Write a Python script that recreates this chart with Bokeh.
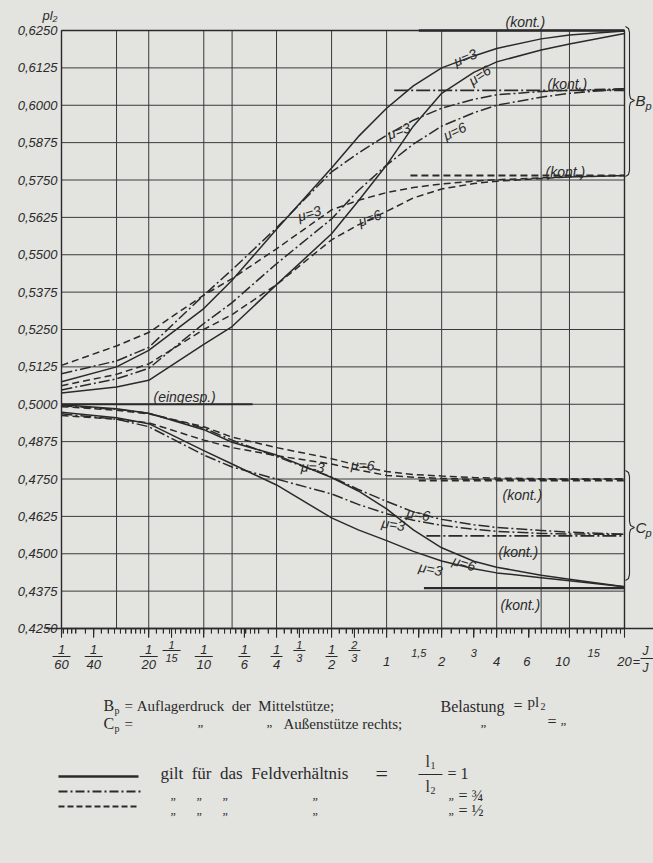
import math
from bokeh.plotting import figure
from bokeh.models import Range1d, FixedTicker, Label, CustomJSTickFormatter
from bokeh.embed import file_html
from bokeh.resources import INLINE

# ---------------- data ----------------
x_pts = [1/60, 1/30, 1/20, 1/10, 1/7, 1/4, 1/2, 0.7, 1, 1.4, 2, 3, 4, 7, 10, 20]

# B_p  (Auflagerdruck der Mittelstuetze)
bp_solid_mu3   = [0.5075, 0.5125, 0.5180, 0.5320, 0.5415, 0.5585, 0.5790, 0.5895, 0.5990, 0.6065, 0.6125, 0.6165, 0.6190, 0.6222, 0.6235, 0.6248]
bp_solid_mu6   = [0.5038, 0.5058, 0.5080, 0.5200, 0.5260, 0.5400, 0.5570, 0.5680, 0.5800, 0.5930, 0.6040, 0.6110, 0.6145, 0.6185, 0.6205, 0.6240]
bp_dashdot_mu3 = [0.5102, 0.5145, 0.5190, 0.5365, 0.5450, 0.5590, 0.5777, 0.5840, 0.5900, 0.5950, 0.5990, 0.6020, 0.6035, 0.6046, 0.6050, 0.6055]
bp_dashdot_mu6 = [0.5048, 0.5085, 0.5120, 0.5270, 0.5340, 0.5470, 0.5620, 0.5715, 0.5800, 0.5870, 0.5930, 0.5975, 0.6000, 0.6027, 0.6040, 0.6055]
bp_dashed_mu3  = [0.5130, 0.5195, 0.5240, 0.5365, 0.5420, 0.5520, 0.5650, 0.5682, 0.5708, 0.5725, 0.5737, 0.5746, 0.5751, 0.5757, 0.5760, 0.5765]
bp_dashed_mu6  = [0.5062, 0.5100, 0.5135, 0.5250, 0.5300, 0.5400, 0.5550, 0.5600, 0.5645, 0.5690, 0.5720, 0.5738, 0.5746, 0.5755, 0.5760, 0.5765]

# C_p  (Auflagerdruck der Aussenstuetze rechts)
cp_solid_mu6   = [0.4998, 0.4985, 0.4970, 0.4915, 0.4873, 0.4830, 0.4755, 0.4710, 0.4650, 0.4580, 0.4520, 0.4475, 0.4455, 0.4428, 0.4415, 0.4390]
cp_solid_mu3   = [0.4973, 0.4955, 0.4935, 0.4845, 0.4800, 0.4730, 0.4620, 0.4580, 0.4544, 0.4508, 0.4476, 0.4450, 0.4436, 0.4420, 0.4410, 0.4390]
cp_dashdot_mu6 = [0.4995, 0.4983, 0.4970, 0.4920, 0.4880, 0.4825, 0.4757, 0.4715, 0.4675, 0.4640, 0.4615, 0.4597, 0.4588, 0.4578, 0.4572, 0.4565]
cp_dashdot_mu3 = [0.4968, 0.4950, 0.4925, 0.4830, 0.4790, 0.4750, 0.4700, 0.4665, 0.4634, 0.4612, 0.4595, 0.4582, 0.4575, 0.4568, 0.4566, 0.4565]
cp_dashed_mu6  = [0.4992, 0.4980, 0.4968, 0.4925, 0.4890, 0.4855, 0.4818, 0.4795, 0.4775, 0.4765, 0.4760, 0.4755, 0.4753, 0.4751, 0.4750, 0.4750]
cp_dashed_mu3  = [0.4962, 0.4950, 0.4938, 0.4880, 0.4855, 0.4828, 0.4800, 0.4780, 0.4762, 0.4756, 0.4752, 0.4749, 0.4748, 0.4748, 0.4749, 0.4750]

# "kont." limits (start J1/J3, value) for solid, dash-dot, dashed
bp_kont_start = [1.5, 1.1, 1.35]
bp_kont_value = [0.6250, 0.6050, 0.5765]
cp_kont_start = [1.6, 1.65, 1.5]
cp_kont_value = [0.4385, 0.4560, 0.4745]

eingesp_x = [1/60, 0.185]
eingesp_y = [0.5000, 0.5000]

# axes
grid_x = [1/60, 1/30, 1/20, 1/10, 1/7, 1/4, 1/2, 1, 2, 4, 7, 10, 20]
y_ticks = [round(0.425 + 0.0125 * i, 4) for i in range(17)]
x_major_ticks = [1/60, 1/40, 1/20, 1/15, 1/10, 1/6, 1/4, 1/3, 1/2, 2/3, 1, 1.5, 2, 3, 4, 6, 10, 15, 20]
x_tick_labels = ["1/60", "1/40", "1/20", "1/15", "1/10", "1/6", "1/4", "1/3", "1/2", "2/3",
                 "1", "1,5", "2", "3", "4", "6", "10", "15", "20"]
x_tick_small = [0, 0, 0, 1, 0, 0, 0, 1, 0, 1, 0, 1, 0, 1, 0, 0, 0, 1, 0]

# ---------------- layout (page pixels) ----------------
W, H = 653, 863
BL = 45                 # left border for the y axis labels
PX_L, PX_R = 61, 624    # chart box left/right (J1/J3 = 1/60 .. 20)
PY_T, PY_B = 30, 628    # chart box top/bottom (0.6250 .. 0.4250)
X0, X1 = 1/60, 20
Y0, Y1 = 0.425, 0.625
PXD = (PX_R - PX_L) / (math.log10(X1) - math.log10(X0))
PYD = (PY_B - PY_T) / (Y1 - Y0)
BG = "#e3e3e0"
INK = "#2a2a2a"
GRID = "#3a3a3a"
NB = "\u00a0"


def dx(px):
    return 10 ** (math.log10(X0) + (px - PX_L) / PXD)


def dy(py):
    return Y1 - (py - PY_T) / PYD


p = figure(width=W, height=H, x_axis_type="log",
           x_range=Range1d(dx(BL), dx(W)), y_range=Range1d(dy(H), dy(0)),
           output_backend="svg", toolbar_location=None,
           min_border_left=BL, min_border_right=0,
           min_border_top=0, min_border_bottom=0)
p.background_fill_color = BG
p.border_fill_color = BG
p.outline_line_color = None
p.xgrid.visible = False
p.ygrid.visible = False

# y axis (with the "pl2" heading as its top label)
title_val = round(dy(15), 6)
yax = p.yaxis[0]
yax.ticker = FixedTicker(ticks=y_ticks + [title_val])
yax.formatter = CustomJSTickFormatter(
    code="return tick > 0.63 ? 'pl\u2082' : tick.toFixed(4).replace('.', ',');")
yax.axis_line_color = None
yax.major_tick_line_color = None
yax.minor_tick_line_color = None
yax.major_tick_out = 0
yax.major_tick_in = 0
yax.major_label_standoff = -(PX_L - BL) + 4
yax.major_label_text_font = "Liberation Sans"
yax.major_label_text_font_style = "italic"
yax.major_label_text_font_size = "13px"
yax.major_label_text_color = INK

# x axis (ruler) fixed on the chart's bottom line
x_minor = sorted(set(round(d * k / 100, 6) for d in (0.01, 0.1, 1, 10)
                     for k in list(range(100, 200, 10)) + list(range(200, 500, 25)) + list(range(500, 1000, 50))
                     if X0 <= d * k / 100 <= X1))
xax = p.xaxis[0]
xax.fixed_location = Y0
xax.ticker = FixedTicker(ticks=x_major_ticks, minor_ticks=x_minor)
xax.formatter = CustomJSTickFormatter(code="return '';")
xax.axis_line_color = INK
xax.axis_line_width = 1.5
xax.major_tick_line_color = INK
xax.minor_tick_line_color = INK
xax.major_tick_out = 9
xax.major_tick_in = 0
xax.minor_tick_out = 5
xax.minor_tick_in = 0
xax.major_label_text_font_size = "1px"

# ruler ticks also drawn as glyphs (same tick arrays)
p.segment(x0=x_major_ticks, y0=[Y0] * len(x_major_ticks), x1=x_major_ticks,
          y1=[dy(PY_B + 9)] * len(x_major_ticks), line_color=INK, line_width=1.1)
p.segment(x0=x_minor, y0=[Y0] * len(x_minor), x1=x_minor,
          y1=[dy(PY_B + 5)] * len(x_minor), line_color=INK, line_width=0.9)

# grid and chart box
p.segment(x0=grid_x, y0=[Y0] * len(grid_x), x1=grid_x, y1=[Y1] * len(grid_x),
          line_color=GRID, line_width=1)
p.segment(x0=[X0] * len(y_ticks), y0=y_ticks, x1=[X1] * len(y_ticks), y1=y_ticks,
          line_color=GRID, line_width=1)
p.segment(x0=[X0, X1, X0, X0], y0=[Y0, Y0, Y1, Y0], x1=[X0, X1, X1, X1], y1=[Y1, Y1, Y1, Y0],
          line_color=INK, line_width=1.4)

DASH = {"solid": "solid", "dashdot": "11 3 2 3", "dashed": "7 4"}
curves = [
    (bp_solid_mu3, "solid"), (bp_solid_mu6, "solid"),
    (bp_dashdot_mu3, "dashdot"), (bp_dashdot_mu6, "dashdot"),
    (bp_dashed_mu3, "dashed"), (bp_dashed_mu6, "dashed"),
    (cp_solid_mu3, "solid"), (cp_solid_mu6, "solid"),
    (cp_dashdot_mu3, "dashdot"), (cp_dashdot_mu6, "dashdot"),
    (cp_dashed_mu3, "dashed"), (cp_dashed_mu6, "dashed"),
]
for ys, st in curves:
    p.line(x_pts, ys, line_color=INK, line_width=1.5, line_dash=DASH[st])

for starts, vals in [(bp_kont_start, bp_kont_value), (cp_kont_start, cp_kont_value)]:
    for s, v, st in zip(starts, vals, ["solid", "dashdot", "dashed"]):
        p.line([s, X1], [v, v], line_color=INK, line_width=2.3 if st == "solid" else 1.8,
               line_dash="14 3 2 3" if st == "dashdot" else DASH[st])

p.line(eingesp_x, eingesp_y, line_color=INK, line_width=1.8)


def lab(text, x, y, size=12, angle=0.0, align="left", baseline="middle",
        font="Liberation Sans", style="italic", xoff=0):
    p.add_layout(Label(x=x, y=y, text=text, text_font=font, text_font_style=style,
                       text_font_size=f"{size}px", text_color=INK, angle=angle,
                       text_align=align, text_baseline=baseline, x_offset=xoff))


def seg(px0, py0, px1, py1, width=1.0, dash="solid"):
    p.segment(x0=[dx(px0)], y0=[dy(py0)], x1=[dx(px1)], y1=[dy(py1)],
              line_color=INK, line_width=width, line_dash=dash)


# curve labels: (text, left px, baseline px, angle)
mu_labels = [
    ("\u03bc=3", 457, 69, 0.40), ("\u03bc=6", 474, 88, 0.60),
    ("\u03bc=3", 390, 142, 0.35), ("\u03bc=6", 447, 143, 0.45),
    ("\u03bc=3", 300, 224, 0.30), ("\u03bc=6", 361, 229, 0.35),
    ("\u03bc=3", 300, 474, -0.05), ("\u03bc=6", 350, 472, -0.05),
    ("\u03bc=6", 405, 520, -0.15), ("\u03bc=3", 380, 530, -0.15),
    ("\u03bc=6", 450, 567, -0.30), ("\u03bc=3", 417, 574, -0.20),
]
for t, px, py, a in mu_labels:
    lab(t, dx(px), dy(py), 14, a, baseline="bottom")

kont_labels = [(505, 29), (547, 91), (545, 179), (502, 502), (498, 559), (500, 612)]
for px, py in kont_labels:
    lab("(kont.)", dx(px), dy(py), 14, baseline="bottom")
lab("(eingesp.)", dx(153), dy(404), 14, baseline="bottom")


# braces
def brace(py_t, py_b, py_m):
    x0, x1, x2 = 625, 629, 634
    pts = [(x0, py_t), (x1 - 1, py_t + 2), (x1, py_t + 6), (x1, py_m - 6), (x1 + 1, py_m - 2),
           (x2, py_m), (x1 + 1, py_m + 2), (x1, py_m + 6), (x1, py_b - 6), (x1 - 1, py_b - 2), (x0, py_b)]
    p.line([dx(a) for a, _ in pts], [dy(b) for _, b in pts], line_color=INK, line_width=1.1)


brace(26, 176, 100)
brace(470, 580, 527)
lab("B", dx(635), dy(100), 15)
lab("p", dx(645), dy(105), 11)
lab("C", dx(635), dy(527), 15)
lab("p", dx(645), dy(532), 11)

# x tick labels (fractions)
label_shift = {"10": -7, "15": -8, "6": -2}
for v, t, sm in zip(x_major_ticks, x_tick_labels, x_tick_small):
    fs = 11 if sm else 13
    if "/" in t:
        num, den = t.split("/")
        ny, by, dyy = (644, 650, 657) if sm else (649, 656, 664)
        lab(num, v, dy(ny), fs, align="center")
        lab(den, v, dy(dyy), fs, align="center")
        px = PX_L + PXD * (math.log10(v) - math.log10(X0))
        hw = 3 + 3 * len(den)
        seg(px - hw, by, px + hw, by, 1.0)
    else:
        yy = 652 if sm else 661
        lab(t, v, dy(yy), fs, align="center", xoff=label_shift.get(t, 0))
lab("=", dx(632), dy(661), 13)
lab("J", dx(642), dy(650), 12)
lab("J", dx(642), dy(667), 12)
seg(640, 658, 653, 658, 1.0)

# captions
SER = "Liberation Serif"
lab("B", dx(103), dy(705), 16, font=SER, style="normal")
lab("p", dx(114), dy(710), 10, font=SER, style="normal")
lab("=" + NB + "Auflagerdruck" + NB * 2 + "der" + NB * 2 + "Mittelst\u00fctze;",
    dx(124), dy(705), 15, font=SER, style="normal")
lab("Belastung", dx(440), dy(706), 16, font=SER, style="normal")
lab("=", dx(513), dy(705), 16, font=SER, style="normal")
lab("pl", dx(527), dy(701), 15, font=SER, style="normal")
lab("2", dx(540), dy(706), 10, font=SER, style="normal")
lab("C", dx(103), dy(723), 16, font=SER, style="normal")
lab("p", dx(114), dy(728), 10, font=SER, style="normal")
lab("=", dx(124), dy(723), 15, font=SER, style="normal")
for xx in (197, 266, 480):
    lab("\u201e", dx(xx), dy(721), 13, font=SER, style="normal")
lab("Au\u00dfenst\u00fctze" + NB + "rechts;", dx(283), dy(723), 15, font=SER, style="normal")
lab("=", dx(547), dy(721), 16, font=SER, style="normal")
lab("\u201e", dx(560), dy(719), 13, font=SER, style="normal")

# legend
seg(58, 776, 138, 776, 2.6)
seg(58, 791, 140, 791, 2.2, "9 3 2 3")
seg(58, 806, 138, 806, 2.2, "6 3")
lab("gilt" + NB * 2 + "f\u00fcr" + NB * 2 + "das" + NB * 2 + "Feldverh\u00e4ltnis",
    dx(160), dy(773), 17, font=SER, style="normal")
lab("=", dx(375), dy(773), 22, font=SER, style="normal")
lab("l", dx(425), dy(761), 16, font=SER, style="normal")
lab("1", dx(430), dy(765), 10, font=SER, style="normal")
seg(418, 774, 442, 774, 1.0)
lab("l", dx(425), dy(786), 16, font=SER, style="normal")
lab("2", dx(430), dy(790), 10, font=SER, style="normal")
lab("=" + NB + "1", dx(447), dy(773), 16, font=SER, style="normal")
for row_y, frac in ((797, "\u00be"), (812, "\u00bd")):
    for xx in (170, 196, 222, 312, 448):
        lab("\u201e", dx(xx), dy(row_y - 3), 12, font=SER, style="normal")
    lab("=" + NB + frac, dx(458), dy(row_y - 2), 16, font=SER, style="normal")

html = file_html(p, INLINE)
html = html.replace("<head>", "<head><style>body{background:#e3e3e0;}</style>", 1)
open("out.html", "w").write(html)
